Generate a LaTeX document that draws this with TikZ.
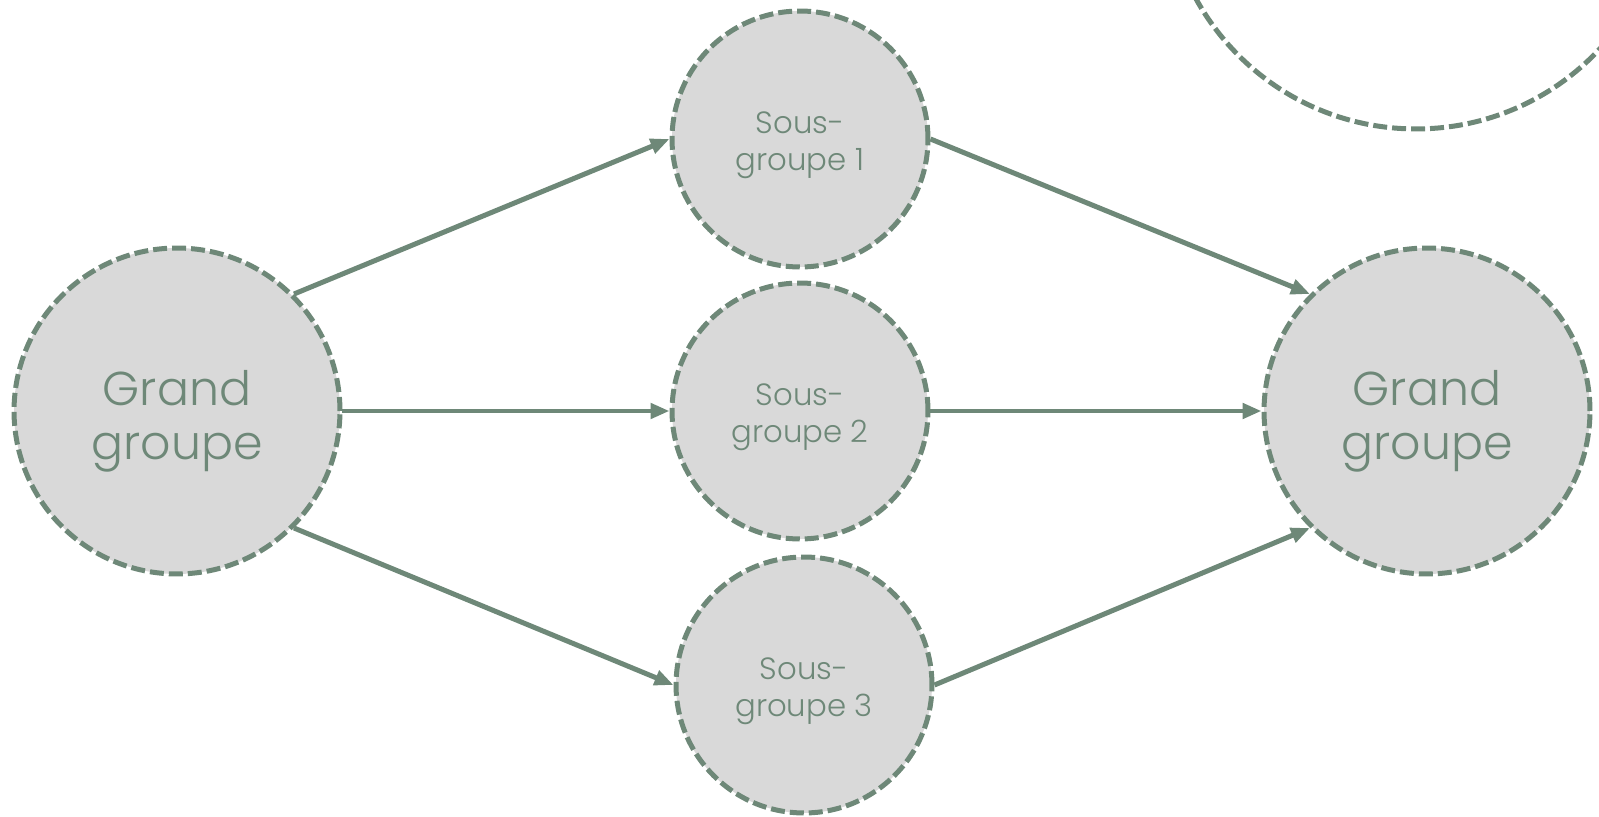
\documentclass[tikz,border=0pt]{standalone}
\usepackage{fontspec}
\setmainfont{Poppins Light}
\usepackage{tikz}
\usetikzlibrary{arrows.meta}

\definecolor{sage}{RGB}{110,136,120}
\definecolor{bubble}{RGB}{217,217,217}

\begin{document}
\begin{tikzpicture}[x=0.02cm,y=-0.02cm,
    grp/.style={circle,draw=sage,fill=bubble,line width=0.1cm,
      dash pattern=on 0.28cm off 0.1cm,text=sage,align=center,inner sep=0pt},
    big/.style={minimum size=6.52cm,font=\fontsize{27}{31.2}\selectfont,
      text height=62pt,text depth=6.4pt},
    small/.style={minimum size=5.12cm,font=\fontsize{17.5}{21}\selectfont,
      text height=42pt,text depth=5.7pt},
    >={Triangle[length=0.38cm,width=0.3cm]}]

      \clip (0,0) rectangle (1599,817);

      \begin{scope}[every node/.style={grp}]
        \node[big] (gl) at (177,411) {Grand\\groupe};
        \node[small] (s1) at (800,139) {Sous-\\groupe 1};
        \node[small] (s2) at (800,411) {Sous-\\groupe 2};
        \node[small] (s3) at (804,685) {Sous-\\groupe 3};
        \node[big] (gr) at (1427,411) {Grand\\groupe};
        \node[fill=none,minimum size=10.04cm] (ring) at (1416,-122) {};
      \end{scope}

      \begin{scope}[draw=sage,line width=0.1cm]
        \path [->] (gl.45) edge (s1.west);
        \path [->] (gl.east) edge (s2.west);
        \path [->] (gl.-45) edge (s3.west);
        \path [->] (s1.east) edge (gr.135);
        \path [->] (s2.east) edge (gr.west);
        \path [->] (s3.east) edge (gr.-135);
      \end{scope}
    \end{tikzpicture}
\end{document}
